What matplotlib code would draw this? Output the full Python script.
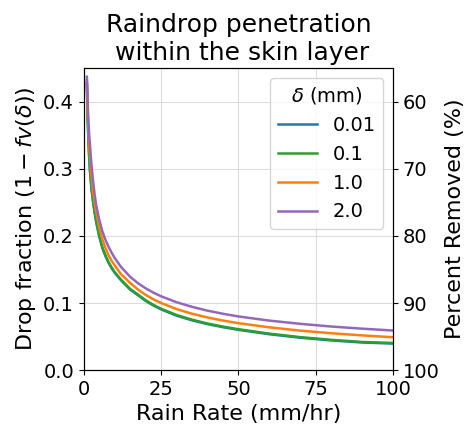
import matplotlib
matplotlib.use("Agg")
import matplotlib.pyplot as plt

# rain rate (mm/hr) and drop fraction
rain_rate = [1, 1.25, 1.5, 1.75, 2, 2.5, 3, 3.5, 4, 5, 6, 7, 8, 9, 10, 12, 15,
             17.5, 20, 22.5, 25, 30, 35, 40, 45, 50, 60, 70, 80, 90, 100]
frac_001 = [0.427, 0.375, 0.344, 0.317, 0.297, 0.270, 0.251, 0.235, 0.221, 0.199,
            0.182, 0.170, 0.160, 0.152, 0.145, 0.134, 0.120, 0.1117, 0.1032, 0.0963,
            0.0905, 0.0812, 0.0742, 0.0686, 0.0640, 0.0601, 0.0535, 0.0483, 0.0443,
            0.0412, 0.0396]
frac_01 = [0.428, 0.376, 0.345, 0.318, 0.298, 0.271, 0.252, 0.236, 0.222, 0.200,
           0.183, 0.171, 0.161, 0.153, 0.146, 0.135, 0.121, 0.1127, 0.1042, 0.0973,
           0.0915, 0.0822, 0.0752, 0.0695, 0.0649, 0.0610, 0.0544, 0.0492, 0.0452,
           0.0420, 0.0405]
frac_10 = [0.432, 0.388, 0.360, 0.337, 0.318, 0.290, 0.266, 0.250, 0.236, 0.213,
           0.195, 0.182, 0.171, 0.163, 0.156, 0.143, 0.130, 0.1202, 0.1122, 0.1056,
           0.100, 0.0910, 0.0841, 0.0785, 0.0739, 0.0700, 0.0638, 0.0589, 0.0550,
           0.0518, 0.0490]
frac_20 = [0.437, 0.397, 0.370, 0.350, 0.335, 0.305, 0.282, 0.262, 0.246, 0.224,
           0.207, 0.194, 0.184, 0.175, 0.167, 0.154, 0.139, 0.1296, 0.1219, 0.1155,
           0.110, 0.1012, 0.0943, 0.0886, 0.0840, 0.0800, 0.0738, 0.0690, 0.0650,
           0.0618, 0.0590]
deltas = ["0.01", "0.1", "1.0", "2.0"]
colors = ["tab:blue", "tab:green", "tab:orange", "tab:purple"]
right_ticks = [60, 70, 80, 90, 100]

fig = plt.figure(figsize=(4.68, 4.25), dpi=100)
ax = fig.add_axes([0.179, 0.129, 0.661, 0.711])

for vals, lab, col in zip([frac_001, frac_01, frac_10, frac_20], deltas, colors):
    ax.plot(rain_rate, vals, color=col, label=lab, lw=1.8)

ax.set_xlim(0, 100)
ax.set_ylim(0, 0.45)
ax.set_xticks([0, 25, 50, 75, 100])
ax.set_yticks([0.0, 0.1, 0.2, 0.3, 0.4])
ax.grid(True, color="#dddddd")
ax.tick_params(labelsize=14)
ax.set_xlabel("Rain Rate (mm/hr)", fontsize=16)
ax.set_ylabel(r"Drop fraction $(1 - fv(\delta))$", fontsize=16)
ax.set_title("Raindrop penetration\n within the skin layer", fontsize=18)
ax.legend(title=r"$\delta$ (mm)", loc="upper right", fontsize=14, title_fontsize=14)

ax2 = ax.twinx()
ax2.set_ylim(100, 55)
ax2.set_yticks(right_ticks)
ax2.tick_params(labelsize=14)
ax2.set_ylabel("Percent Removed (%)", fontsize=16)

fig.savefig("out.png", dpi=100)
